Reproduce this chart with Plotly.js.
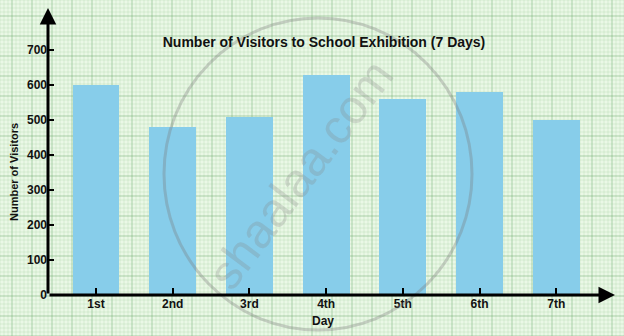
<!DOCTYPE html>
<html>
<head>
<meta charset="utf-8">
<script src="https://cdn.plot.ly/plotly-3.0.1.min.js"></script>
<style>html,body{margin:0;padding:0;background:#eaf8e6;}#chart{width:624px;height:336px;}</style>
</head>
<body>
<div id="chart"></div>
<script>
// Data
const days = ['1st', '2nd', '3rd', '4th', '5th', '6th', '7th'];
const visitors = [600, 480, 510, 630, 560, 580, 500];
const yTickVals = [0, 100, 200, 300, 400, 500, 600, 700];
const chartTitle = 'Number of Visitors to School Exhibition (7 Days)';
const xTitle = 'Day';
const yTitle = 'Number of Visitors';

// Layout geometry (pixels)
const W = 624, H = 336;
const mL = 48, mR = 9, mT = 8, mB = 41;
const pw = W - mL - mR, ph = H - mT - mB;
const px2x = p => (p - mL) / pw;
const py2y = p => (H - mB - p) / ph;

const xRange = [-0.626, 6.766];
const yRange = [0, 820];

// Grid-paper background shapes
const shapes = [];
for (let p = 0; p <= W; p += 4) {
  const major = ((p - 12) % 20 + 20) % 20 === 0;
  shapes.push({type: 'line', xref: 'paper', yref: 'paper', layer: 'below',
    x0: px2x(p), x1: px2x(p), y0: py2y(H), y1: py2y(0),
    line: {color: major ? 'rgba(110,170,110,0.5)' : 'rgba(150,205,150,0.22)', width: 1}});
}
for (let p = 0; p <= H; p += 4) {
  const major = ((p - 16) % 20 + 20) % 20 === 0;
  shapes.push({type: 'line', xref: 'paper', yref: 'paper', layer: 'below',
    x0: px2x(0), x1: px2x(W), y0: py2y(p), y1: py2y(p),
    line: {color: major ? 'rgba(110,170,110,0.5)' : 'rgba(150,205,150,0.22)', width: 1}});
}
// watermark circle
shapes.push({type: 'circle', xref: 'paper', yref: 'paper', layer: 'above',
  x0: px2x(164), x1: px2x(472), y0: py2y(330), y1: py2y(18),
  line: {color: 'rgba(120,120,120,0.33)', width: 3}});

const boldFont = {family: 'Liberation Sans, Arial, sans-serif', color: '#111', weight: 'bold'};

const annotations = [
  // axes with arrowheads
  {x: xRange[1], y: 0, ax: xRange[0], ay: 0, xref: 'x', yref: 'y', axref: 'x', ayref: 'y',
   text: '', showarrow: true, arrowhead: 2, arrowsize: 1.1, arrowwidth: 3, arrowcolor: '#000', standoff: 0},
  {x: xRange[0], y: yRange[1], ax: xRange[0], ay: 0, xref: 'x', yref: 'y', axref: 'x', ayref: 'y',
   text: '', showarrow: true, arrowhead: 2, arrowsize: 1.1, arrowwidth: 3, arrowcolor: '#000', standoff: 0},
  // axis titles
  {text: xTitle, xref: 'paper', yref: 'paper', x: px2x(323), y: py2y(321), showarrow: false,
   xanchor: 'center', yanchor: 'middle', font: Object.assign({size: 12}, boldFont)},
  {text: yTitle, xref: 'paper', yref: 'paper', x: px2x(14), y: py2y(172), showarrow: false,
   textangle: -90, xanchor: 'center', yanchor: 'middle', font: Object.assign({size: 11}, boldFont)},
  // watermark
  {text: 'shaalaa.com', xref: 'paper', yref: 'paper', x: px2x(300), y: py2y(174), showarrow: false,
   textangle: -53, xanchor: 'center', yanchor: 'middle',
   font: {family: 'Liberation Sans, Arial, sans-serif', size: 48, color: 'rgba(130,130,130,0.26)'}}
];

const trace = {
  type: 'bar',
  x: days,
  y: visitors,
  width: 0.61,
  marker: {color: '#87cdea', line: {width: 0}},
  hoverinfo: 'x+y'
};

const layout = {
  width: W, height: H,
  margin: {l: mL, r: mR, t: mT, b: mB, pad: 0},
  paper_bgcolor: '#eaf8e6',
  plot_bgcolor: 'rgba(0,0,0,0)',
  showlegend: false,
  title: {text: chartTitle, xref: 'paper', x: px2x(324), xanchor: 'center',
          yref: 'container', y: 1 - 42 / H, yanchor: 'middle',
          font: Object.assign({size: 14}, boldFont)},
  xaxis: {type: 'category', range: xRange, showgrid: false, zeroline: false, showline: false,
          ticks: 'inside', ticklen: 7, tickwidth: 2, tickcolor: '#000',
          tickfont: Object.assign({size: 12}, boldFont), fixedrange: true},
  yaxis: {range: yRange, tickvals: yTickVals, showgrid: false, zeroline: false, showline: false,
          ticks: 'inside', ticklen: 6, tickwidth: 2, tickcolor: '#000',
          tickfont: Object.assign({size: 12}, boldFont), fixedrange: true},
  shapes: shapes,
  annotations: annotations,
  bargap: 0
};

Plotly.newPlot('chart', [trace], layout, {displayModeBar: false, staticPlot: true});
</script>
</body>
</html>
